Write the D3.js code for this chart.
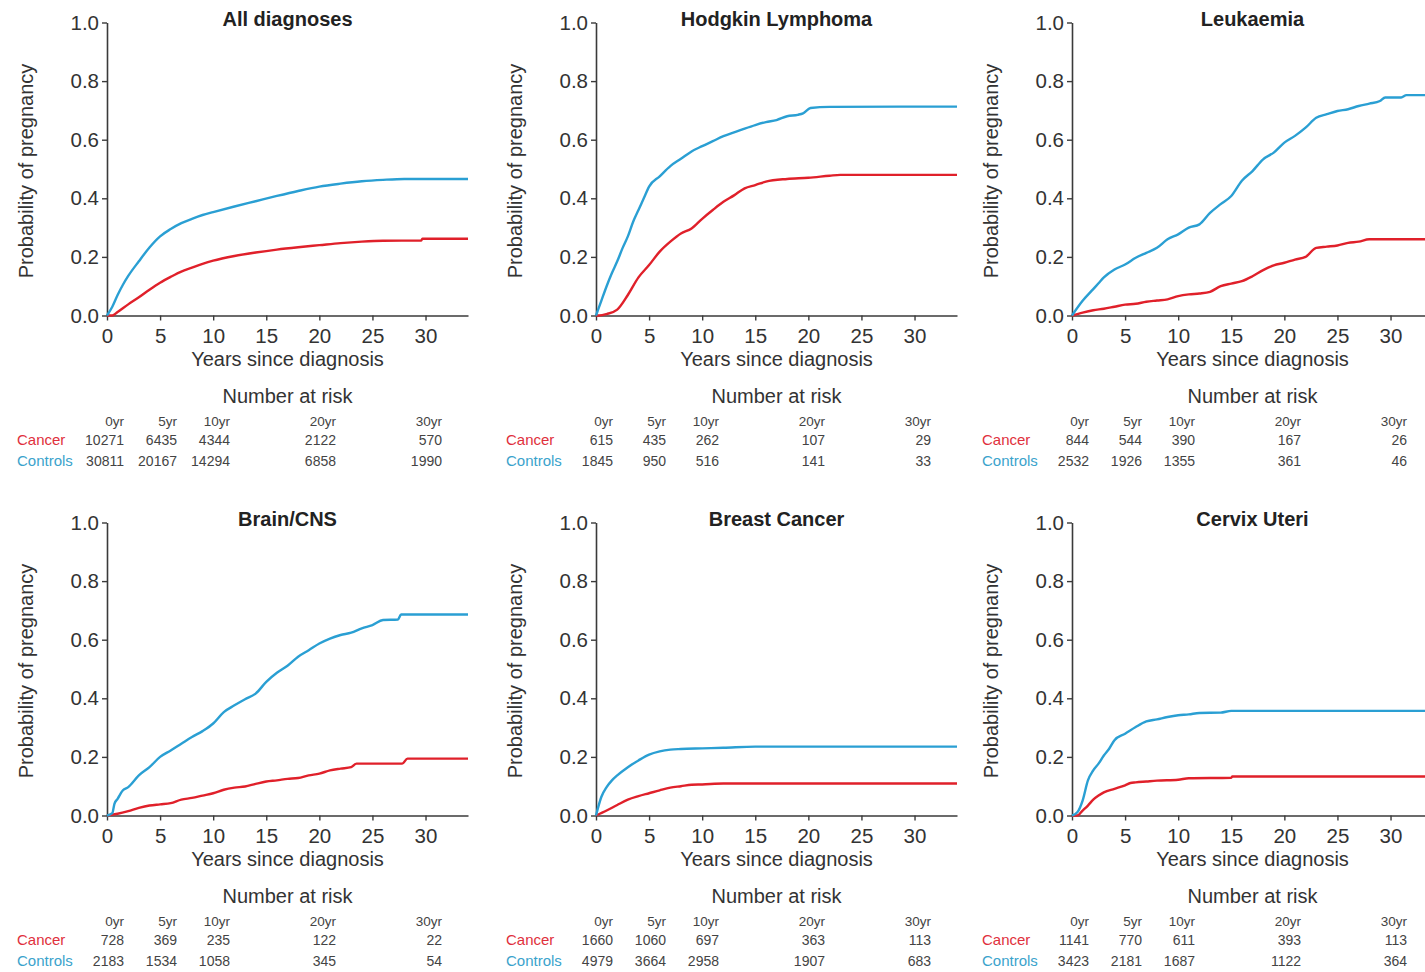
<!DOCTYPE html>
<html><head><meta charset="utf-8">
<script src="https://cdn.jsdelivr.net/npm/d3@7"></script>
<style>
body{margin:0;background:#fff}
svg{display:block}
text{font-family:"Liberation Sans",Arial,Helvetica,sans-serif}
</style>
</head><body>
<svg id="c" width="1425" height="972"></svg>
<script>
// ---------- DATA ----------
const panelTitles = ["All diagnoses","Hodgkin Lymphoma","Leukaemia","Brain/CNS","Breast Cancer","Cervix Uteri"];
const xTicks = [0,5,10,15,20,25,30];
const yTicks = [0,0.2,0.4,0.6,0.8,1.0];
const riskTimes = [0,5,10,20,30];
const riskLabels = ["0yr","5yr","10yr","20yr","30yr"];
const groupLabels = ["Cancer","Controls"];

const allControls = [[0,0],[0.5,0.03],[1,0.07],[1.5,0.105],[2,0.135],[3,0.185],[4,0.232],[5,0.27],[6,0.295],[7,0.315],[8,0.33],[9,0.343],[10,0.353],[12,0.372],[14,0.39],[16,0.408],[18,0.425],[20,0.44],[22,0.45],[24,0.458],[26,0.463],[28,0.466],[30,0.466],[34,0.466]];
const allCancer = [[0,0],[0.5,0],[1,0.012],[2,0.038],[3,0.062],[4,0.088],[5,0.112],[6,0.132],[7,0.15],[8,0.163],[9,0.176],[10,0.187],[12,0.203],[14,0.215],[16,0.225],[18,0.233],[20,0.24],[22,0.247],[24,0.252],[26,0.255],[29.6,0.256],[29.7,0.262],[34,0.262]];

const hodgControls = [[0,0],[0.5,0.05],[1,0.1],[1.5,0.145],[2,0.185],[2.5,0.23],[3,0.27],[3.5,0.32],[4,0.36],[4.5,0.4],[5,0.44],[6,0.475],[7,0.51],[8,0.535],[9,0.56],[10,0.578],[11,0.595],[12,0.612],[13,0.625],[14,0.638],[15,0.65],[16,0.66],[17,0.667],[18,0.68],[19,0.685],[19.5,0.69],[20.2,0.708],[22,0.712],[34,0.713]];
const hodgCancer = [[0,0],[0.3,0],[1,0.005],[2,0.02],[3,0.07],[4,0.13],[5,0.172],[6,0.218],[7,0.252],[8,0.28],[9,0.297],[10,0.33],[11,0.36],[12,0.388],[13,0.41],[14,0.434],[15,0.445],[16,0.457],[18,0.466],[20,0.47],[22,0.477],[23,0.48],[34,0.48]];

const leukControls = [[0,0],[1,0.05],[2,0.09],[2.5,0.11],[3,0.13],[4,0.157],[5,0.174],[6,0.197],[7,0.214],[8,0.231],[9,0.26],[10,0.277],[11,0.3],[12,0.311],[13,0.35],[14,0.38],[15,0.408],[16,0.46],[17,0.493],[18,0.533],[19,0.556],[20,0.59],[21,0.613],[22,0.641],[23,0.675],[24,0.687],[25,0.698],[26,0.704],[27,0.715],[28,0.723],[29,0.732],[29.5,0.744],[31,0.744],[31.5,0.752],[34,0.752]];
const leukCancer = [[0,0],[1,0.01],[2,0.018],[3,0.023],[4,0.03],[5,0.037],[6,0.04],[7,0.047],[8,0.051],[9,0.055],[10,0.066],[11,0.072],[12,0.075],[13,0.081],[14,0.1],[15,0.109],[16,0.117],[17,0.134],[18,0.155],[19,0.171],[20,0.18],[21,0.191],[22,0.2],[23,0.231],[24,0.235],[25,0.239],[26,0.248],[27,0.252],[28,0.26],[34,0.26]];

const brainControls = [[0,0],[0.5,0.008],[0.7,0.04],[1,0.057],[1.5,0.086],[2,0.097],[3,0.137],[4,0.165],[5,0.2],[6,0.222],[7,0.245],[8,0.268],[9,0.288],[10,0.314],[11,0.353],[12,0.376],[13,0.397],[14,0.416],[15,0.456],[16,0.487],[17,0.511],[18,0.542],[19,0.564],[20,0.587],[21,0.604],[22,0.616],[23,0.624],[24,0.639],[25,0.65],[26,0.667],[27.4,0.669],[27.7,0.686],[34,0.686]];
const brainCancer = [[0,0],[1,0.006],[2,0.015],[3,0.026],[4,0.034],[5,0.038],[6,0.042],[7,0.054],[8,0.06],[9,0.068],[10,0.076],[11,0.088],[12,0.095],[13,0.099],[14,0.108],[15,0.116],[16,0.12],[17,0.125],[18,0.128],[19,0.137],[20,0.143],[21,0.154],[22,0.16],[23,0.165],[23.5,0.177],[27.8,0.177],[28.3,0.194],[34,0.194]];

const breastControls = [[0,0],[0.5,0.063],[1,0.097],[1.5,0.12],[2,0.137],[3,0.165],[4,0.188],[5,0.208],[6,0.219],[7,0.225],[8,0.227],[10,0.229],[12,0.231],[15,0.235],[34,0.235]];
const breastCancer = [[0,0],[1,0.017],[2,0.036],[3,0.054],[4,0.066],[5,0.076],[6,0.086],[7,0.095],[8,0.1],[9,0.105],[10,0.106],[12,0.109],[34,0.109]];

const cervixControls = [[0,0],[0.5,0.011],[1,0.051],[1.5,0.12],[2,0.154],[2.5,0.177],[3,0.205],[3.5,0.228],[4,0.257],[5,0.279],[6,0.302],[7,0.321],[8,0.328],[9,0.336],[10,0.342],[11,0.345],[12,0.35],[14,0.351],[15,0.357],[34,0.357]];
const cervixCancer = [[0,0],[0.5,0],[1,0.017],[1.5,0.034],[2,0.054],[2.5,0.068],[3,0.079],[4,0.091],[5,0.103],[5.5,0.111],[6,0.113],[7,0.116],[8,0.119],[10,0.122],[11,0.127],[15,0.129],[15.1,0.133],[34,0.133]];

const controlsSeries = [allControls,hodgControls,leukControls,brainControls,breastControls,cervixControls];
const cancerSeries = [allCancer,hodgCancer,leukCancer,brainCancer,breastCancer,cervixCancer];

const atRiskCancer = [
  [10271,6435,4344,2122,570],
  [615,435,262,107,29],
  [844,544,390,167,26],
  [728,369,235,122,22],
  [1660,1060,697,363,113],
  [1141,770,611,393,113]
];
const atRiskControls = [
  [30811,20167,14294,6858,1990],
  [1845,950,516,141,33],
  [2532,1926,1355,361,46],
  [2183,1534,1058,345,54],
  [4979,3664,2958,1907,683],
  [3423,2181,1687,1122,364]
];

// ---------- LAYOUT ----------
const colX = [107,596,1072];
const rowY = [22.5,522.5];
const W = 361, H = 293;
const blue = "#2a9fd3", red = "#e0202a";
const axisCol = "#3a3a3a", textCol = "#333";

const svg = d3.select("#c");
svg.append("rect").attr("width",1425).attr("height",972).attr("fill","#fff");

panelTitles.forEach((title,i)=>{
  const x0 = colX[i%3], y0 = rowY[Math.floor(i/3)];
  const g = svg.append("g").attr("transform",`translate(${x0},${y0})`);
  const x = d3.scaleLinear().domain([0,34]).range([0,W]);
  const y = d3.scaleLinear().domain([0,1]).range([H,0]);

  // axes
  const ya = g.append("g").call(d3.axisLeft(y).tickValues(yTicks).tickFormat(d3.format(".1f")).tickSize(5).tickSizeOuter(0).tickPadding(3));
  const xa = g.append("g").attr("transform",`translate(0,${H})`).call(d3.axisBottom(x).tickValues(xTicks).tickFormat(d3.format("d")).tickSize(5).tickSizeOuter(0).tickPadding(8));
  [ya,xa].forEach(a=>{
    a.select(".domain").attr("stroke",axisCol).attr("stroke-width",1.6);
    a.selectAll(".tick line").attr("stroke",axisCol).attr("stroke-width",1.4);
    a.selectAll(".tick text").attr("fill",textCol).attr("font-size",20.5).attr("font-family",'"Liberation Sans",Arial,sans-serif');
  });

  // lines
  const line = d3.line().x(d=>x(d[0])).y(d=>y(d[1])).curve(d3.curveMonotoneX);
  g.append("path").datum(cancerSeries[i]).attr("d",line).attr("fill","none").attr("stroke",red).attr("stroke-width",2.4);
  g.append("path").datum(controlsSeries[i]).attr("d",line).attr("fill","none").attr("stroke",blue).attr("stroke-width",2.4);

  // title
  g.append("text").attr("x",W/2).attr("y",3.5).attr("text-anchor","middle").attr("font-weight","bold").attr("font-size",20).attr("fill","#222").text(title);
  // axis titles
  g.append("text").attr("x",W/2).attr("y",343.5).attr("text-anchor","middle").attr("font-size",20).attr("fill",textCol).text("Years since diagnosis");
  g.append("text").attr("transform",`translate(-74,${H/2+2}) rotate(-90)`).attr("text-anchor","middle").attr("font-size",20).attr("fill",textCol).text("Probability of pregnancy");

  // number at risk table
  const tx = d3.scaleLinear().domain([0,30]).range([17,335]);
  g.append("text").attr("x",W/2).attr("y",380.5).attr("text-anchor","middle").attr("font-size",20).attr("fill",textCol).text("Number at risk");
  g.selectAll(".hdr").data(riskLabels).enter().append("text").attr("x",(d,j)=>tx(riskTimes[j])).attr("y",403.5).attr("text-anchor","end").attr("font-size",13.5).attr("fill","#444").text(d=>d);
  [atRiskCancer[i],atRiskControls[i]].forEach((row,r)=>{
    const yy = 422.5 + r*20.5;
    g.append("text").attr("x",-90).attr("y",yy).attr("font-size",15).attr("fill",r===0?"#e0303c":"#3aa3cc").text(groupLabels[r]);
    g.selectAll(".n"+r).data(row).enter().append("text").attr("x",(d,j)=>tx(riskTimes[j])).attr("y",yy).attr("text-anchor","end").attr("font-size",14).attr("fill","#444").text(d=>d);
  });
});
</script>
</body></html>
